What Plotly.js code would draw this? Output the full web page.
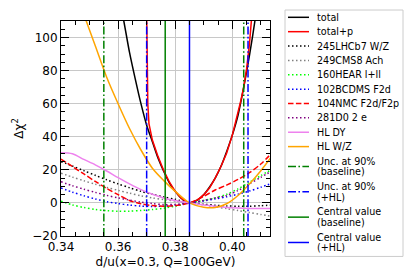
<!DOCTYPE html>
<html>
<head>
<meta charset="utf-8">
<script src="https://cdn.plot.ly/plotly-3.0.1.min.js"></script>
<style>html,body{margin:0;padding:0;background:#fff;}#chart{width:420px;height:280px;}</style>
</head>
<body>
<div id="chart"></div>
<script>
// ---- data ----
const xGrid = [0.340,0.344,0.348,0.352,0.356,0.360,0.364,0.368,0.372,0.376,0.380,0.385,0.390,0.394,0.398,0.402,0.406,0.410,0.414];
const lhcb  = [25,22.3,19.5,16.7,14,11.5,9.2,7,5.2,3.6,2.2,0,-0.8,-1.4,-1.8,-2,-2,-1.7,-1.3];
const cms   = [18,15.6,13.4,11.3,9.4,7.6,5.9,4.3,3,2,1.2,0,-1.2,-2.3,-3.4,-4.6,-5.8,-7,-8.2];
const hera  = [1,-1.2,-2.8,-4,-4.7,-5,-5,-4.6,-4,-3.2,-2,0,1.5,3,5.2,8.5,12.5,16.5,20.5];
const bcdms = [9,6.5,4.3,2.4,0.8,-0.4,-1.3,-1.9,-2.1,-2,-1.4,0,1.2,2.4,3.7,5.3,7.2,9.5,12];
const nmc   = [26.5,22,17.5,13,8.8,5,1.5,-0.5,-1.6,-2,-1.6,0,4,7.8,10.8,14.2,18.3,23.5,30.5];
const d0    = [12.8,10.4,8.3,6.4,4.6,3,1.7,0.5,-0.4,-1,-0.9,0,1.5,3,4.5,7.5,11.5,15.5,19.5];
const hlDY  = [30.3,29.7,26.3,23,19.3,15.3,11.5,8,5.2,3,1.4,0,-1.2,-2,-2.7,-3.1,-3.3,-3.4,-3.4];

const xWZ  = [0.346,0.348,0.352,0.356,0.360,0.364,0.368,0.372,0.376,0.380,0.385,0.390,0.394,0.398,0.402,0.406,0.410,0.414];
const hlWZ = [124,114,95,76,60,45,32,21,13.5,7,0,-2.6,-2.8,-0.5,4.5,11.5,19.5,28.5];

const xTotal = [0.360,0.362,0.364,0.366,0.368,0.370,0.372,0.374,0.376,0.378,0.380,0.382,0.384,0.385,
                0.386,0.388,0.390,0.392,0.394,0.396,0.398,0.400,0.402,0.404,0.406,0.408,0.410];
const total  = [128,110,91,75,60,47,37,27,19,12,7,3,0.5,0,0.3,2,5,9.5,15,22,31,41,53,70,89,111,135];

const xTotalP = [0.3700,0.3704,0.3708,0.3715,0.372,0.374,0.376,0.378,0.380,0.382,0.384,0.385,0.386,
                 0.388,0.390,0.392,0.394,0.396,0.398,0.400,0.402,0.403,0.404,0.405,0.406,0.407];
const totalP  = [115,60,48,42,38,28,19.5,12.5,7,3,0.5,0,0.4,2,5,9,15,22,30,41,54,62,70,81,96,117];

const uncBaseline     = [0.355, 0.404];
const uncHL           = [0.370, 0.4055];
const centralBaseline = [0.3765];
const centralHL       = [0.385];

const xLimits = [0.34, 0.4132];
const yLimits = [-20, 110];
const xTickVals = [0.34, 0.36, 0.38, 0.40];
const yTickVals = [-20, 0, 20, 40, 60, 80, 100];

// ---- styles ----
const DOT = '1.5px,2.5px';
const DASH = '5.5px,2.4px';
const DASHDOT = '8px,2.4px,1.6px,2.4px';
const LW = 1.5;

function vlines(vals) {
  const xs = [], ys = [];
  vals.forEach((v, i) => {
    if (i > 0) { xs.push(null); ys.push(null); }
    xs.push(v, v); ys.push(yLimits[0], yLimits[1]);
  });
  return {x: xs, y: ys};
}

const series = [
  {name: ['total'], x: xTotal, y: total, color: 'black', dash: 'solid', shape: 'spline'},
  {name: ['total+p'], x: xTotalP, y: totalP, color: 'red', dash: 'solid', shape: 'linear'},
  {name: ['245LHCb7 W/Z'], x: xGrid, y: lhcb, color: 'black', dash: DOT, shape: 'spline'},
  {name: ['249CMS8 Ach'], x: xGrid, y: cms, color: 'gray', dash: DOT, shape: 'spline'},
  {name: ['160HEAR l+ll'], x: xGrid, y: hera, color: '#00ff00', dash: DOT, shape: 'spline'},
  {name: ['102BCDMS F2d'], x: xGrid, y: bcdms, color: 'blue', dash: DOT, shape: 'spline'},
  {name: ['104NMC F2d/F2p'], x: xGrid, y: nmc, color: 'red', dash: DASH, shape: 'spline'},
  {name: ['281D0 2 e'], x: xGrid, y: d0, color: 'purple', dash: DOT, shape: 'spline'},
  {name: ['HL DY'], x: xGrid, y: hlDY, color: 'violet', dash: 'solid', shape: 'spline'},
  {name: ['HL W/Z'], x: xWZ, y: hlWZ, color: 'orange', dash: 'solid', shape: 'spline'},
  Object.assign({name: ['Unc. at 90%', '(baseline)'], color: 'green', dash: DASHDOT, shape: 'linear'}, vlines(uncBaseline)),
  Object.assign({name: ['Unc. at 90%', '(+HL)'], color: 'blue', dash: DASHDOT, shape: 'linear'}, vlines(uncHL)),
  Object.assign({name: ['Central value', '(baseline)'], color: 'green', dash: 'solid', shape: 'linear'}, vlines(centralBaseline)),
  Object.assign({name: ['Central value', '(+HL)'], color: 'blue', dash: 'solid', shape: 'linear'}, vlines(centralHL))
];

const traces = series.map(s => ({
  type: 'scatter', mode: 'lines', x: s.x, y: s.y, name: s.name.join(' '),
  showlegend: false, hoverinfo: 'skip',
  line: {color: s.color, dash: s.dash, width: LW, shape: s.shape, smoothing: 0.8}
}));

// ---- custom legend (matplotlib-like spacing) ----
const plotL = 61, plotR = 270, plotT = 21, plotB = 236.5;
const px2x = p => (p - plotL) / (plotR - plotL);
const px2y = p => (plotB - p) / (plotB - plotT);
const shapes = [], annotations = [];
const legTop = 10, legBottom = 257, legLeft = 285, legRight = 403;
shapes.push({type: 'rect', xref: 'paper', yref: 'paper',
  x0: px2x(legLeft), x1: px2x(legRight), y0: px2y(legBottom), y1: px2y(legTop),
  line: {color: '#cccccc', width: 1}, fillcolor: 'white', layer: 'above'});
let cur = 10.1;
series.forEach(s => {
  const h = s.name.length === 1 ? 14.4 : 25.4;
  const c = cur + h / 2;
  shapes.push({type: 'line', xref: 'paper', yref: 'paper',
    x0: px2x(288), x1: px2x(309), y0: px2y(c), y1: px2y(c),
    line: {color: s.color, width: LW, dash: s.dash}, layer: 'above'});
  s.name.forEach((t, i) => {
    const ty = s.name.length === 1 ? c : c + (i === 0 ? -5.3 : 5.3);
    annotations.push({xref: 'paper', yref: 'paper', x: px2x(315.5), y: px2y(ty),
      xanchor: 'left', yanchor: 'middle', text: t, showarrow: false, align: 'left',
      font: {family: 'DejaVu Sans', size: 9.6, color: 'black'}, borderpad: 0});
  });
  cur += h;
});

const axisCommon = {
  showline: true, linecolor: 'black', linewidth: 1, mirror: 'allticks',
  ticks: 'inside', ticklen: 8, tickwidth: 1, tickcolor: 'black',
  showgrid: true, gridcolor: '#c8c8c8', gridwidth: 1, zeroline: false,
  tickfont: {family: 'DejaVu Sans', size: 12, color: 'black'}
};

const layout = {
  width: 420, height: 280,
  margin: {l: plotL, r: 420 - plotR, t: plotT, b: 280 - plotB, pad: 0},
  paper_bgcolor: 'white', plot_bgcolor: 'white',
  showlegend: false,
  font: {family: 'DejaVu Sans', size: 12, color: 'black'},
  xaxis: Object.assign({}, axisCommon, {
    range: xLimits, tickmode: 'array', tickvals: xTickVals, tickformat: '.2f',
    minor: {dtick: 0.005, tick0: 0.34, ticks: 'inside', ticklen: 4, tickwidth: 1, tickcolor: 'black', showgrid: false},
    title: {text: 'd/u(x=0.3, Q=100GeV)', font: {family: 'DejaVu Sans', size: 12}, standoff: 4}
  }),
  yaxis: Object.assign({}, axisCommon, {
    range: yLimits, tickmode: 'array', tickvals: yTickVals,
    minor: {dtick: 5, tick0: 0, ticks: 'inside', ticklen: 4, tickwidth: 1, tickcolor: 'black', showgrid: false},
    title: {text: 'Δχ<sup>2</sup>', font: {family: 'DejaVu Sans', size: 12}, standoff: 6}
  }),
  shapes: shapes,
  annotations: annotations
};

Plotly.newPlot('chart', traces, layout, {staticPlot: true, displayModeBar: false});
</script>
</body>
</html>
